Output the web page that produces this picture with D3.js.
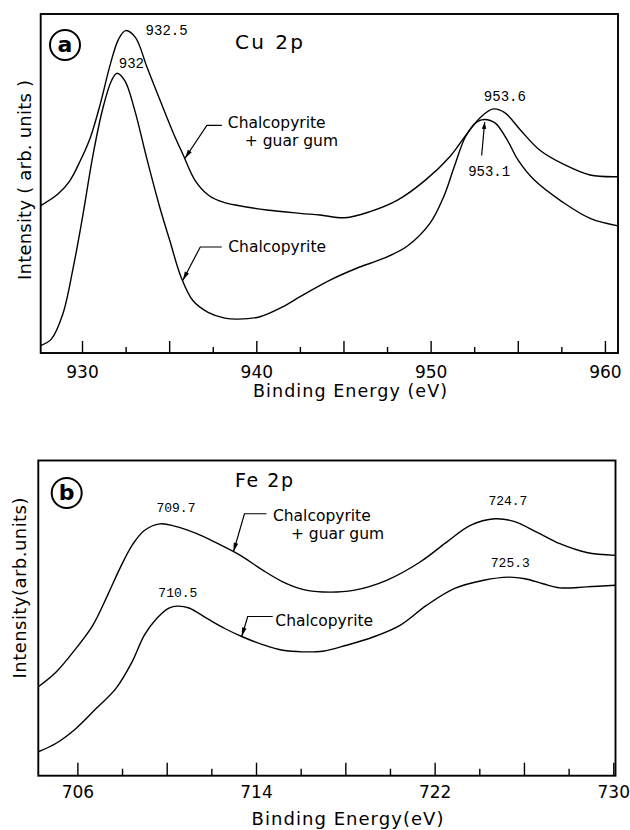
<!DOCTYPE html>
<html>
<head>
<meta charset="utf-8">
<script src="https://cdn.jsdelivr.net/npm/d3@7"></script>
<style>
  body { margin: 0; background: #fff; }
  svg { display: block; }
</style>
</head>
<body>
<svg id="chart" width="630" height="830"></svg>
<script>
// ---------- Cu 2p spectra (binding energy in eV, intensity in arbitrary units) ----------
const cuGuarEnergy = [927.63, 928.62, 929.3, 929.9, 930.48, 931.05, 931.63, 932.1, 932.5, 933.06,
  933.73, 934.49, 935.26, 935.78, 936.5, 937.3, 938.1, 938.95, 940.6, 942.51, 943.65, 945.09,
  946.52, 948.1, 949.7, 951.1, 952.1, 952.9, 953.6, 954.25, 955.15, 956.25, 957.7, 959.15, 960.75];
const cuGuarIntensity = [43.5, 46.9, 50.8, 56.7, 63.6, 73.5, 85.3, 92.6, 95.1, 93.1,
  84.3, 74.4, 64.6, 58.7, 50.8, 46.4, 44.5, 43.5, 42.2, 41.2, 40.7, 39.9,
  41.7, 45.1, 51.0, 57.9, 64.8, 69.7, 72.0, 70.9, 65.8, 59.9, 55.5, 52.5, 52.0];

const cuPureEnergy = [927.63, 928.24, 928.9, 929.5, 930.06, 930.64, 931.21, 931.69, 932.0, 932.46,
  933.03, 933.7, 934.46, 935.04, 935.69, 936.37, 937.23, 938.19, 938.95, 940.21, 941.55, 942.51,
  944.23, 945.76, 947.29, 948.63, 949.97, 950.75, 951.36, 952.0, 952.66, 953.1, 953.71, 954.4,
  955.02, 955.95, 957.55, 959.15, 960.75];
const cuPureIntensity = [2.2, 4.1, 11.5, 25.3, 41.0, 58.7, 72.5, 80.3, 82.5, 80.3,
  71.5, 57.7, 43.0, 33.1, 22.3, 15.4, 12.0, 10.3, 10.0, 10.7, 13.7, 16.6,
  21.5, 25.0, 27.9, 31.4, 38.3, 46.1, 55.0, 63.8, 68.2, 68.9, 67.8, 62.8,
  56.9, 51.0, 44.6, 39.7, 37.5];

const cuGuarPeaks = [932.5, 953.6];
const cuPurePeaks = [932, 953.1];
const cuMajorTicks = [930, 935, 940, 945, 950, 955, 960];
const cuMinorTicks = [932.5, 937.5, 942.5, 947.5, 952.5, 957.5];
const cuTickLabels = [930, 940, 950, 960];

// ---------- Fe 2p spectra ----------
const feGuarEnergy = [704.25, 705.05, 705.94, 706.69, 707.35, 707.9, 708.45, 709.0, 709.7, 710.35,
  711.35, 712.3, 713.3, 714.3, 715.2, 716.09, 716.99, 718.36, 719.85, 721.35, 722.54, 723.6,
  724.7, 725.55, 726.57, 727.61, 728.81, 730.1];
const feGuarIntensity = [28.2, 32.9, 40.4, 47.7, 57.2, 65.7, 73.1, 77.8, 79.9, 79.2,
  76.8, 73.6, 69.9, 65.2, 61.5, 59.1, 58.3, 58.8, 62.0, 67.8, 74.1, 79.4,
  81.5, 80.7, 77.3, 73.6, 70.8, 69.9];

const fePureEnergy = [704.25, 705.05, 705.94, 706.84, 707.73, 708.45, 709.0, 709.55, 710.1, 710.5,
  711.0, 711.8, 712.6, 713.41, 714.3, 715.2, 716.09, 716.99, 718.06, 719.25, 720.45, 721.65,
  722.9, 724.2, 725.3, 726.05, 726.85, 727.6, 728.81, 730.1];
const fePureIntensity = [7.6, 10.3, 15.0, 21.3, 27.7, 36.1, 44.6, 49.9, 53.2, 53.8,
  53.2, 49.9, 46.7, 44.0, 41.6, 39.8, 39.3, 39.5, 41.4, 44.0, 47.7, 54.1,
  59.4, 62.0, 63.0, 62.5, 60.9, 59.6, 59.9, 60.4];

const feGuarPeaks = [709.7, 724.7];
const fePurePeaks = [710.5, 725.3];
const feMajorTicks = [706, 710, 714, 718, 722, 726, 730];
const feMinorTicks = [708, 712, 716, 720, 724, 728];
const feTickLabels = [706, 714, 722, 730];

// ---------- drawing ----------
const SANS = "'DejaVu Sans', 'Liberation Sans', sans-serif";
const MONO = "'Liberation Mono', 'DejaVu Sans Mono', monospace";
const svg = d3.select('#chart');

function valueAt(E, I, e) {
  for (let i = 0; i < E.length - 1; i++) {
    if (e >= E[i] && e <= E[i + 1]) {
      const t = (e - E[i]) / (E[i + 1] - E[i]);
      return I[i] + t * (I[i + 1] - I[i]);
    }
  }
  return e < E[0] ? I[0] : I[I.length - 1];
}

function arrowHead(g, from, to, len, half) {
  const ang = Math.atan2(to[1] - from[1], to[0] - from[0]);
  const bx = to[0] - len * Math.cos(ang), by = to[1] - len * Math.sin(ang);
  const nx = -Math.sin(ang) * half, ny = Math.cos(ang) * half;
  g.append('path')
    .attr('d', `M${to[0]},${to[1]}L${bx + nx},${by + ny}L${bx - nx},${by - ny}Z`)
    .attr('fill', '#000');
}

function drawPanel(p) {
  const g = svg.append('g');
  const x = d3.scaleLinear().domain(p.xDomain).range([p.left, p.right]);
  const y = d3.scaleLinear().domain([0, 100]).range([p.bottom, p.top]);

  // bottom axis: long ticks, short ticks, numbers
  const major = g.append('g')
    .attr('transform', `translate(0,${p.bottom})`)
    .call(d3.axisBottom(x).tickValues(p.majorTicks).tickSize(-p.majorLen)
      .tickPadding(p.tickPad)
      .tickFormat(d => p.tickLabels.includes(d) ? String(d) : ''));
  const minor = g.append('g')
    .attr('transform', `translate(0,${p.bottom})`)
    .call(d3.axisBottom(x).tickValues(p.minorTicks).tickSize(-p.minorLen).tickFormat(() => ''));
  [major, minor].forEach(a => {
    a.select('.domain').remove();
    a.selectAll('.tick line').attr('stroke', '#000').attr('stroke-width', 1.4);
  });
  major.attr('font-family', SANS).attr('font-size', 17);
  major.selectAll('.tick text').attr('fill', '#000');

  // frame
  g.append('rect')
    .attr('x', p.left).attr('y', p.top)
    .attr('width', p.right - p.left).attr('height', p.bottom - p.top)
    .attr('fill', 'none').attr('stroke', '#000').attr('stroke-width', 1.9);

  // spectra
  const line = d3.line().x(d => x(d[0])).y(d => y(d[1])).curve(d3.curveCatmullRom.alpha(0.5));
  Object.values(p.series).forEach(s => {
    g.append('path')
      .datum(d3.zip(s.energy, s.intensity))
      .attr('d', line)
      .attr('fill', 'none').attr('stroke', '#000').attr('stroke-width', 1.4);
  });

  // peak positions
  p.peakLabels.forEach(pl => {
    const s = p.series[pl.series];
    const px = x(pl.e), py = y(valueAt(s.energy, s.intensity, pl.e));
    g.append('text')
      .attr('x', px + pl.dx).attr('y', py + pl.dy)
      .attr('text-anchor', 'middle')
      .attr('font-family', MONO).attr('font-size', p.peakFont)
      .attr('fill', '#000')
      .text(String(pl.e));
    if (pl.arrow) {
      const tip = [px, py + 2.5], base = [px - 3, py + 36];
      g.append('line').attr('x1', base[0]).attr('y1', base[1]).attr('x2', tip[0]).attr('y2', tip[1])
        .attr('stroke', '#000').attr('stroke-width', 1.2);
      arrowHead(g, base, tip, 7, 2.2);
    }
  });

  // sample callouts
  p.callouts.forEach(c => {
    const s = p.series[c.series];
    const tip = [x(c.e), y(valueAt(s.energy, s.intensity, c.e))];
    const elbow = [tip[0] + c.elbow[0], tip[1] + c.elbow[1]];
    const end = [tip[0] + c.end, elbow[1]];
    g.append('path')
      .attr('d', `M${end[0]},${end[1]}L${elbow[0]},${elbow[1]}L${tip[0]},${tip[1]}`)
      .attr('fill', 'none').attr('stroke', '#000').attr('stroke-width', 1.2);
    arrowHead(g, elbow, tip, 9, 2.3);
    c.lines.forEach(l => {
      g.append('text')
        .attr('x', tip[0] + l.dx).attr('y', tip[1] + l.dy)
        .attr('font-family', SANS).attr('font-size', p.calloutFont)
        .attr('fill', '#000')
        .text(l.text);
    });
  });

  // panel letter in a circle
  g.append('circle')
    .attr('cx', p.badge[0]).attr('cy', p.badge[1]).attr('r', 15)
    .attr('fill', 'none').attr('stroke', '#000').attr('stroke-width', 2);
  g.append('text')
    .attr('x', p.badge[0]).attr('y', p.badge[1] + 6.5)
    .attr('text-anchor', 'middle')
    .attr('font-family', SANS).attr('font-size', 22).attr('font-weight', 600)
    .attr('fill', '#000')
    .text(p.letter);

  // element / level title
  g.append('text')
    .attr('x', p.title.x).attr('y', p.title.y)
    .attr('font-family', SANS).attr('font-size', p.title.size)
    .attr('textLength', p.title.len).attr('lengthAdjust', 'spacing')
    .attr('fill', '#000')
    .text(p.title.text);

  // axis titles
  g.append('text')
    .attr('x', p.xTitle.x).attr('y', p.xTitle.y)
    .attr('text-anchor', 'middle')
    .attr('font-family', SANS).attr('font-size', p.xTitle.size)
    .attr('textLength', p.xTitle.len).attr('lengthAdjust', 'spacing')
    .attr('fill', '#000')
    .text(p.xTitle.text);
  g.append('text')
    .attr('transform', `translate(${p.yTitle.x},${p.yTitle.y}) rotate(-90)`)
    .attr('text-anchor', 'middle')
    .attr('font-family', SANS).attr('font-size', p.yTitle.size)
    .attr('textLength', p.yTitle.len).attr('lengthAdjust', 'spacing')
    .attr('fill', '#000')
    .text(p.yTitle.text);
}

// (a) Cu 2p
drawPanel({
  xDomain: [927.63, 960.75], left: 40.7, right: 618, top: 14, bottom: 353,
  majorTicks: cuMajorTicks, minorTicks: cuMinorTicks, tickLabels: cuTickLabels,
  majorLen: 12, minorLen: 6, tickPad: 13,
  series: {
    guar: { energy: cuGuarEnergy, intensity: cuGuarIntensity },
    pure: { energy: cuPureEnergy, intensity: cuPureIntensity }
  },
  peakFont: 14,
  peakLabels: [
    { series: 'guar', e: cuGuarPeaks[0], dx: 41, dy: 4.5 },
    { series: 'pure', e: cuPurePeaks[0], dx: 14.5, dy: -5 },
    { series: 'guar', e: cuGuarPeaks[1], dx: 11.5, dy: -7.5 },
    { series: 'pure', e: cuPurePeaks[1], dx: 4.5, dy: 57, arrow: true }
  ],
  calloutFont: 15.5,
  callouts: [
    { series: 'guar', e: 935.9, elbow: [22, -33], end: 37,
      lines: [{ text: 'Chalcopyrite', dx: 43, dy: -30 }, { text: '+ guar gum', dx: 60, dy: -12.5 }] },
    { series: 'pure', e: 935.78, elbow: [17.5, -33.5], end: 39,
      lines: [{ text: 'Chalcopyrite', dx: 45.5, dy: -28.5 }] }
  ],
  badge: [65, 45], letter: 'a',
  title: { text: 'Cu 2p', x: 235, y: 49, size: 20, len: 68 },
  xTitle: { text: 'Binding Energy (eV)', x: 350, y: 397, size: 17.5, len: 194 },
  yTitle: { text: 'Intensity ( arb. units )', x: 31, y: 180, size: 18, len: 200 }
});

// (b) Fe 2p
drawPanel({
  xDomain: [704.25, 730.1], left: 38.3, right: 615.5, top: 460.5, bottom: 775.7,
  majorTicks: feMajorTicks, minorTicks: feMinorTicks, tickLabels: feTickLabels,
  majorLen: 13, minorLen: 7, tickPad: 10,
  series: {
    guar: { energy: feGuarEnergy, intensity: feGuarIntensity },
    pure: { energy: fePureEnergy, intensity: fePureIntensity }
  },
  peakFont: 13,
  peakLabels: [
    { series: 'guar', e: feGuarPeaks[0], dx: 16, dy: -12 },
    { series: 'pure', e: fePurePeaks[0], dx: 0, dy: -9.5 },
    { series: 'guar', e: feGuarPeaks[1], dx: 13, dy: -13.5 },
    { series: 'pure', e: fePurePeaks[1], dx: 2, dy: -10 }
  ],
  calloutFont: 15.5,
  callouts: [
    { series: 'guar', e: 712.99, elbow: [11, -38], end: 33,
      lines: [{ text: 'Chalcopyrite', dx: 39.5, dy: -30.5 }, { text: '+ guar gum', dx: 57.5, dy: -12.5 }] },
    { series: 'pure', e: 713.36, elbow: [6, -20], end: 31,
      lines: [{ text: 'Chalcopyrite', dx: 33.6, dy: -10.8 }] }
  ],
  badge: [66.7, 493], letter: 'b',
  title: { text: 'Fe 2p', x: 235, y: 487, size: 19, len: 58 },
  xTitle: { text: 'Binding Energy(eV)', x: 347.5, y: 825, size: 18, len: 192 },
  yTitle: { text: 'Intensity(arb.units)', x: 26, y: 588, size: 18, len: 181 }
});
</script>
</body>
</html>
